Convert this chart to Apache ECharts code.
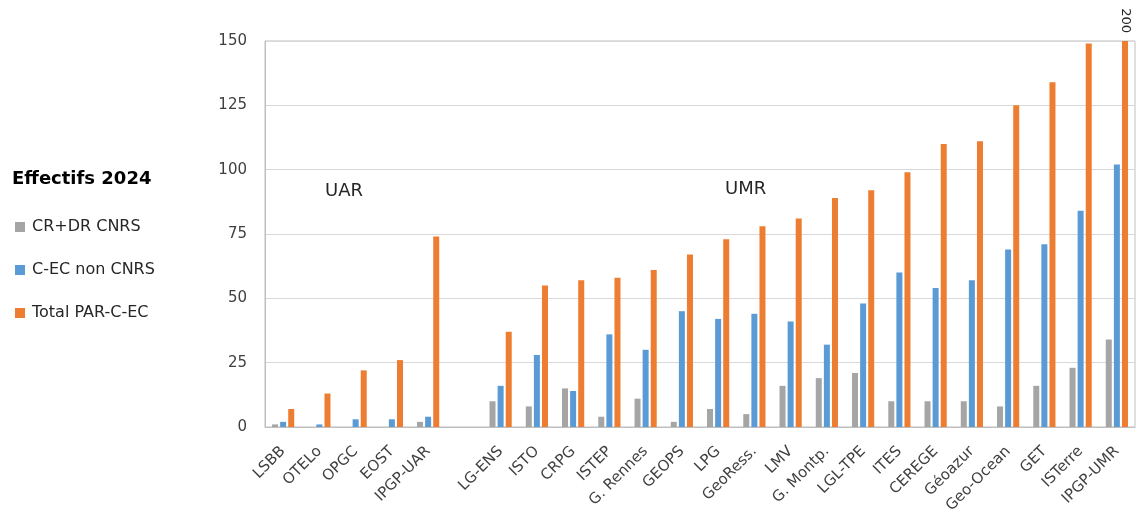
<!DOCTYPE html>
<html>
<head>
<meta charset="utf-8">
<script src="https://cdn.jsdelivr.net/npm/echarts@6/dist/echarts.min.js"></script>
<style>html,body{margin:0;padding:0;background:#fff}#c{width:1138px;height:514px}</style>
</head>
<body>
<div id="c"></div>
<script>
var categories = ['LSBB','OTELo','OPGC','EOST','IPGP-UAR','','LG-ENS','ISTO','CRPG','ISTEP','G. Rennes','GEOPS','LPG','GeoRess.','LMV','G. Montp.','LGL-TPE','ITES','CEREGE','Géoazur','Geo-Ocean','GET','ISTerre','IPGP-UMR'];
var crdrCNRS  = [1, 0, 0, 0, 2, '-', 10, 8, 15, 4, 11, 2, 7, 5, 16, 19, 21, 10, 10, 10, 8, 16, 23, 34];
var cecNonCNRS = [2, 1, 3, 3, 4, '-', 16, 28, 14, 36, 30, 45, 42, 44, 41, 32, 48, 60, 54, 57, 69, 71, 84, 102];
var totalPAR  = [7, 13, 22, 26, 74, '-', 37, 55, 57, 58, 61, 67, 73, 78, 81, 89, 92, 99, 110, 111, 125, 134, 149, 200];
var yTicks = [0, 25, 50, 75, 100, 125, 150];
var groupLabels = ['UAR', 'UMR'];

var FONT = 'DejaVu Sans';
var yMax = yTicks[yTicks.length - 1];

var totalData = totalPAR.map(function (v) {
  if (typeof v === 'number' && v > yMax) {
    return {
      value: v,
      label: {
        show: true, position: 'top', rotate: -90, distance: 8,
        align: 'right', verticalAlign: 'middle',
        fontFamily: FONT, fontSize: 13, color: '#262626',
        formatter: '{c}'
      }
    };
  }
  return v;
});

var chart = echarts.init(document.getElementById('c'), null, {renderer: 'canvas'});
chart.setOption({
  animation: false,
  backgroundColor: '#ffffff',
  title: {
    text: 'Effectifs 2024', left: 7, top: 165,
    textStyle: {fontFamily: FONT, fontSize: 18, fontWeight: 'bold', color: '#000'}
  },
  legend: {
    orient: 'vertical', left: 15, top: 219, padding: 0,
    itemWidth: 10, itemHeight: 10, itemGap: 27,
    icon: 'rect',
    textStyle: {fontFamily: FONT, fontSize: 16, color: '#262626', padding: [0, 0, 0, 2]},
    data: ['CR+DR CNRS', 'C-EC non CNRS', 'Total PAR-C-EC']
  },
  grid: {
    left: 265, right: 3, top: 41, bottom: 87,
    outerBoundsMode: 'none', containLabel: false,
    show: true, borderColor: '#bfbfbf', borderWidth: 1
  },
  xAxis: {
    type: 'category', data: categories,
    axisLine: {show: true, lineStyle: {color: '#bfbfbf', width: 1}},
    axisTick: {show: false},
    axisLabel: {interval: 0, rotate: 45, margin: 22, fontFamily: FONT, fontSize: 15, color: '#404040'}
  },
  yAxis: {
    type: 'value', min: 0, max: yMax, interval: 25,
    axisLine: {show: true, lineStyle: {color: '#bfbfbf', width: 1}},
    axisTick: {show: false},
    splitLine: {lineStyle: {color: '#d9d9d9', width: 1}},
    axisLabel: {margin: 18, fontFamily: FONT, fontSize: 15, color: '#404040'}
  },
  graphic: [
    {type: 'text', left: 325, top: 182, style: {text: groupLabels[0], font: '18px "DejaVu Sans"', fill: '#262626'}},
    {type: 'text', left: 725, top: 180, style: {text: groupLabels[1], font: '18px "DejaVu Sans"', fill: '#262626'}}
  ],
  series: [
    {name: 'CR+DR CNRS', type: 'bar', data: crdrCNRS, barWidth: 6, barGap: '35%', itemStyle: {color: '#a5a5a5'}},
    {name: 'C-EC non CNRS', type: 'bar', data: cecNonCNRS, barWidth: 6, barGap: '35%', itemStyle: {color: '#5b9bd5'}},
    {name: 'Total PAR-C-EC', type: 'bar', data: totalData, barWidth: 6, barGap: '35%', clip: true, itemStyle: {color: '#ed7d31'}}
  ]
});
</script>
</body>
</html>
